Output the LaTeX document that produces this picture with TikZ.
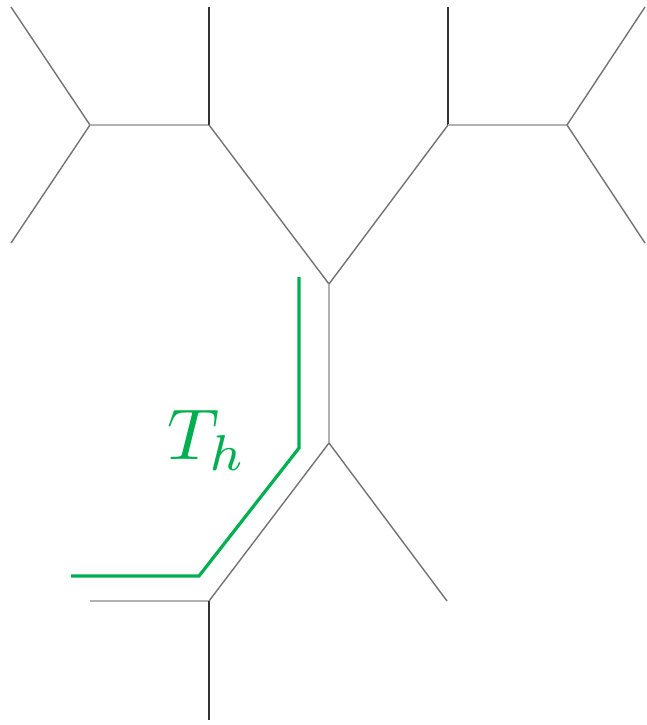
\documentclass[tikz,border=0pt]{standalone}
\begin{document}
\begin{tikzpicture}[x=1pt,y=-1pt,
  leaf/.style={draw=black!80,line width=1.4pt},
  diag/.style={draw=black!55,line width=1.4pt},
  horiz/.style={draw=black!30,line width=1.8pt},
  green path/.style={draw={rgb,255:red,0;green,176;blue,80},line width=3.2pt}]
\useasboundingbox (0,0) rectangle (646,725);
% coordinates
\coordinate (l1) at (11,7);
\coordinate (l2) at (11,243);
\coordinate (A) at (90,125);
\coordinate (B) at (209,125);
\coordinate (l3) at (209,7);
\coordinate (C) at (329,284);
\coordinate (D) at (448,125);
\coordinate (l4) at (448,7);
\coordinate (E) at (567,125);
\coordinate (l5) at (645,7);
\coordinate (l6) at (645,243);
\coordinate (F) at (329,443);
\coordinate (l7) at (447,601);
\coordinate (G) at (209,601);
\coordinate (l8) at (90,601);
\coordinate (l9) at (209,720);
% tree
\draw[diag] (l1) -- (A);
\draw[diag] (l2) -- (A);
\draw[horiz] (A) -- (B);
\draw[leaf] (l3) -- (B);
\draw[diag] (B) -- (C);
\draw[diag] (C) -- (D);
\draw[leaf] (l4) -- (D);
\draw[horiz] (D) -- (E);
\draw[diag] (E) -- (l5);
\draw[diag] (E) -- (l6);
\draw[horiz] (C) -- (F);
\draw[diag] (F) -- (l7);
\draw[diag] (F) -- (G);
\draw[horiz] (G) -- (l8);
\draw[leaf] (G) -- (l9);
% green path
\coordinate (g1) at (299,277);
\coordinate (g2) at (299,448);
\coordinate (g3) at (199,576);
\coordinate (g4) at (71,576);
\draw[green path,line join=miter] (g1) -- (g2) -- (g3) -- (g4);
\node[text={rgb,255:red,0;green,176;blue,80},scale=7.2,inner sep=0pt] (Th) at (207,440) {$T_h$};
\end{tikzpicture}
\end{document}
